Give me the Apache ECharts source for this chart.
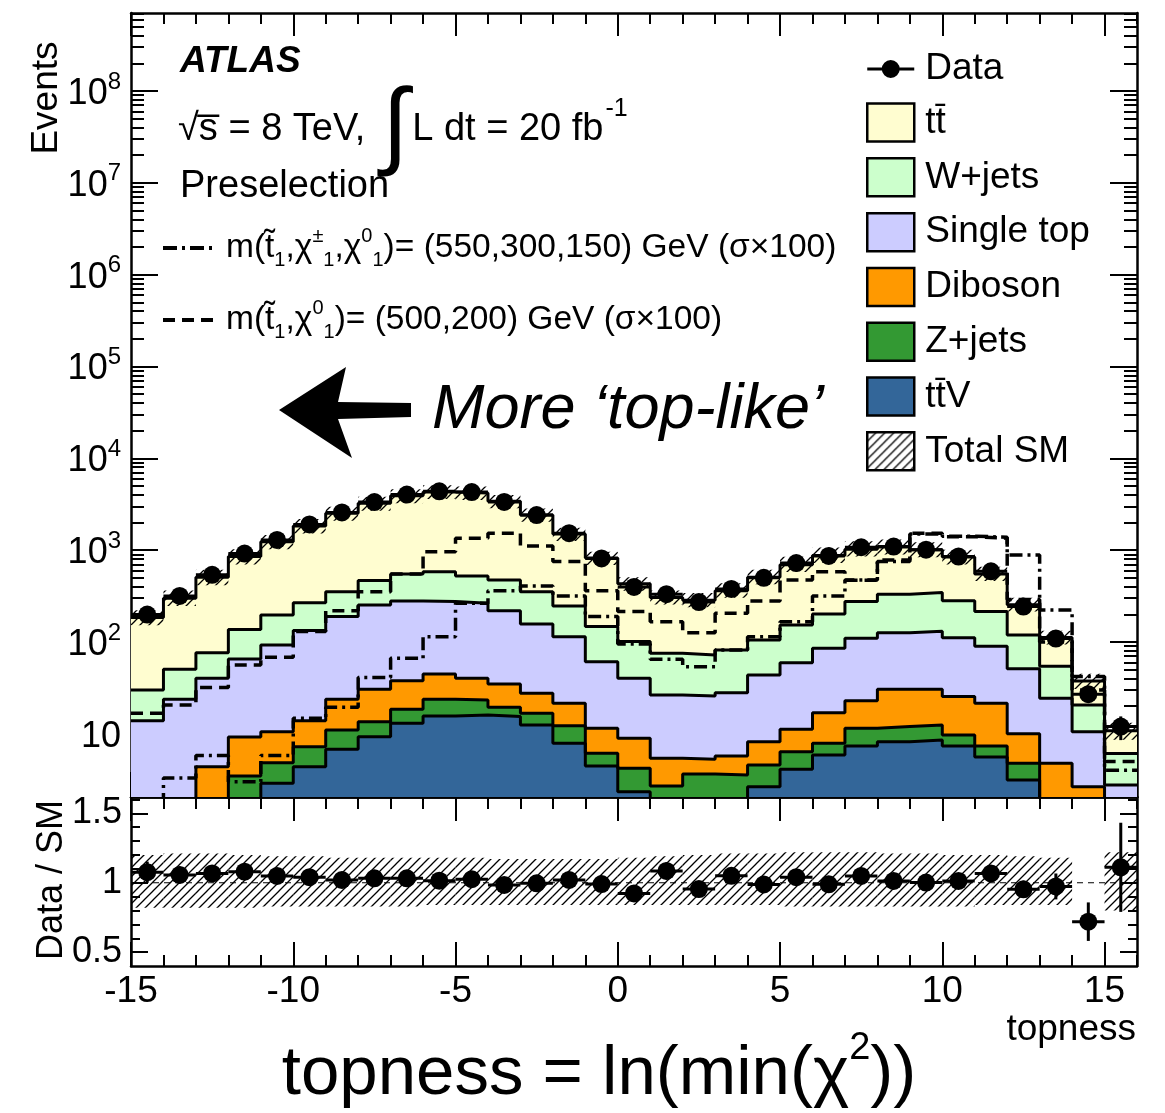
<!DOCTYPE html>
<html>
<head>
<meta charset="utf-8">
<title>topness</title>
<script src="https://cdn.jsdelivr.net/npm/echarts@6.0.0/dist/echarts.min.js"></script>
<style>
html,body{margin:0;padding:0;background:#fff;}
#chart{width:1165px;height:1113px;}
</style>
</head>
<body>
<div id="chart"></div>
<script>
// ---------------- data ----------------
const binEdges = [-15,-14,-13,-12,-11,-10,-9,-8,-7,-6,-5,-4,-3,-2,-1,0,1,2,3,4,5,6,7,8,9,10,11,12,13,14,15,16];
const ttbar     = [155,249.5,428.5,713,1033,1562,2167,2764,3350,3717,3656,2926,2067,1253,673,329,229.7,213,278.2,400,542,673,750,750,665,559,336,136,57.5,16.9,4.7];
const wJets     = [16.1,26.7,36.3,71.7,104.3,135,164,213,270,308,260,255,196,133,86,60.8,48.8,46.2,53.8,61.3,93.5,116.6,165,204,214,170,124,68,30.1,10.1,3.33];
const singleTop = [12.9,22.3,35.8,56.1,82.2,119.1,165.2,222.5,242.1,230.2,223.8,184.1,129.4,92.5,49.5,31.3,21.1,20.5,22.3,35.5,48.3,68.4,87.1,95.5,100.5,85.6,68.5,41,19.6,7.85,2.17];
const diboson   = [0.5,0.8,3.38,5.73,5.65,6.66,12.8,17,19.4,21,16.9,15.5,10.9,9.3,5.37,4.72,2.71,1.63,2.17,3.63,4.82,9.12,11.4,18.5,18,15.7,14.1,5.23,3.97,2.15,0.3];
const zJets     = [0.3,0.4,0.6,2.87,1.96,2.86,4.22,4.2,5.5,8.2,7.3,4.0,4.2,4.3,1.67,1.87,1.7,2.45,2.36,1.92,2.28,2.0,4.14,3.8,3.94,2.34,1.76,1.63,0.5,0.3,0.2];
const ttV       = [0.2,0.3,0.4,0.6,2.89,4.38,6.78,9.3,13,15.6,16,15.4,12.5,7.9,4.46,2.34,1.0,1.2,1.2,2.65,4.1,5.88,7.36,8.2,8.56,7.36,5.6,3.14,0.3,0.2,0.1];
const dataCounts= [199,317,539,918,1290,1903,2570,3333,4025,4365,4285,3346,2410,1530,812,397,331,272,378,499,723,865,1075,1094,1011,851,587,243,109,27,12];
const sig550    = [1,3.3,5.8,3.0,5.8,14.8,19.4,41,66.4,114,264,362,407,317,189,95,64.8,53.8,81.8,114,166,317,473,750,1500,1420,1380,887,223,42,4];
const sig500    = [16.7,20.6,32,56,68,130,219,353,550,963,1350,1530,1110,750,362,214,166,126,206,280,473,583,470,780,1530,1400,1350,290,100,30,5];
const sysUp     = [0.2,0.21,0.21,0.2,0.19,0.19,0.18,0.18,0.18,0.18,0.18,0.17,0.17,0.17,0.17,0.18,0.19,0.2,0.21,0.21,0.22,0.22,0.22,0.21,0.21,0.2,0.2,0.19,0.18,0.2,0.22];
const sysDown   = [0.18,0.18,0.18,0.18,0.17,0.17,0.17,0.17,0.17,0.16,0.16,0.16,0.16,0.16,0.16,0.16,0.16,0.16,0.16,0.16,0.17,0.17,0.17,0.17,0.17,0.17,0.16,0.16,0.16,0.18,0.2];
const ratioBandSkip = [14];
const xMajorTicks = [-15,-10,-5,0,5,10,15];
const yMajorExponents = [1,2,3,4,5,6,7,8];
const ratioMajorTicks = [0.5,1,1.5];
const ratioMinorTicks = [0.5,0.6,0.7,0.8,0.9,1.0,1.1,1.2,1.3,1.4,1.5,1.6];
const yMin = 2.05, yMax = 7.06e8;
const rMin = 0.401, rMax = 1.617;

// ---------------- helpers ----------------
const FONT = '"Liberation Sans", Arial, Helvetica, sans-serif';
const nb = ttbar.length;

// stacked backgrounds, bottom to top
const comps = [
  { name: 'tt\u0304V', values: ttV, color: '#336699' },
  { name: 'Z+jets', values: zJets, color: '#339933' },
  { name: 'Diboson', values: diboson, color: '#FF9900' },
  { name: 'Single top', values: singleTop, color: '#CCCCFF' },
  { name: 'W+jets', values: wJets, color: '#CCFFCC' },
  { name: 'tt\u0304', values: ttbar, color: '#FFFDD0' }
];
// cumulative tops of the stack
const cumulative = [];
comps.forEach((c, k) => {
  cumulative.push(c.values.map((v, i) => v + (k > 0 ? cumulative[k - 1][i] : 0)));
});
const total = cumulative[comps.length - 1];
const stepPts = arr => arr.map((v, i) => [binEdges[i], v]).concat([[binEdges[nb], arr[nb - 1]]]);

function makeHatch(){
  const c = document.createElement('canvas'); c.width = 9; c.height = 9;
  const g = c.getContext('2d'); g.strokeStyle = '#000'; g.lineWidth = 1.3;
  g.beginPath();
  g.moveTo(-1, 10); g.lineTo(10, -1);
  g.moveTo(-1, 1); g.lineTo(1, -1);
  g.moveTo(8, 10); g.lineTo(10, 8);
  g.stroke();
  return c;
}
const hatch = { image: makeHatch(), repeat: 'repeat' };

const yMinorExp = [];
for (let k = 0; k <= 8; k++) for (let m = 2; m <= 9; m++) {
  const v = Math.log10(m * Math.pow(10, k));
  if (v > Math.log10(yMin) && v < Math.log10(yMax)) yMinorExp.push(v);
}

// ---------------- axes ----------------
const AXC = '#000';
function xa(grid, pos, vals, len, line, labels){
  return {
    type: 'value', gridIndex: grid, position: pos, min: binEdges[0], max: binEdges[nb],
    axisLine: { show: line, onZero: false, lineStyle: { color: AXC, width: 2.5 } },
    axisTick: { show: true, inside: true, length: len, customValues: vals, lineStyle: { color: AXC, width: 2 } },
    axisLabel: labels ? { show: true, customValues: xMajorTicks, margin: 7, fontSize: 37, color: '#000', fontFamily: FONT,
                          formatter: v => String(v) } : { show: false },
    splitLine: { show: false }, minorTick: { show: false }
  };
}
const expLabel = {
  show: true, customValues: yMajorExponents, margin: 10, color: '#000', fontFamily: FONT, fontSize: 36,
  formatter: v => { const e = Math.round(v); return e === 1 ? '{b|10}' : '{b|10}{p|' + e + '}'; },
  rich: {
    b: { fontSize: 36, fontFamily: FONT, lineHeight: 42, color: '#000', padding: [6, 0, 0, 0] },
    p: { fontSize: 24, fontFamily: FONT, lineHeight: 20, verticalAlign: 'top', color: '#000' }
  }
};
function yLogDeco(pos, vals, len, labels){
  return {
    type: 'value', gridIndex: 0, position: pos, min: Math.log10(yMin), max: Math.log10(yMax),
    axisLine: { show: false, onZero: false },
    axisTick: { show: true, inside: true, length: len, customValues: vals, lineStyle: { color: AXC, width: 2 } },
    axisLabel: labels ? expLabel : { show: false },
    splitLine: { show: false }, minorTick: { show: false }
  };
}
function yLogData(pos){
  return {
    type: 'log', logBase: 10, gridIndex: 0, position: pos, min: yMin, max: yMax,
    axisLine: { show: true, onZero: false, lineStyle: { color: AXC, width: 2.5 } },
    axisTick: { show: false }, axisLabel: { show: false }, splitLine: { show: false }, minorTick: { show: false }
  };
}
function yRatio(pos, vals, len, line, labels){
  return {
    type: 'value', gridIndex: 1, position: pos, min: rMin, max: rMax,
    axisLine: { show: line, onZero: false, lineStyle: { color: AXC, width: 2.5 } },
    axisTick: { show: true, inside: true, length: len, customValues: vals, lineStyle: { color: AXC, width: 2 } },
    axisLabel: labels ? { show: true, customValues: ratioMajorTicks, margin: 9, fontSize: 36, color: '#000', fontFamily: FONT,
                          formatter: v => String(v) } : { show: false },
    splitLine: { show: false }, minorTick: { show: false }
  };
}

// ---------------- series ----------------
const series = [];
// filled areas: largest cumulative first so smaller ones lie on top
for (let k = comps.length - 1; k >= 0; k--) {
  const c = comps[k];
  series.push({
    type: 'line', name: c.name, data: stepPts(cumulative[k]), step: 'end', symbol: 'none',
    xAxisIndex: 0, yAxisIndex: 0, color: c.color, lineStyle: { width: 0, opacity: 0 },
    areaStyle: { color: c.color, opacity: 1, origin: 'start' }, z: 2, silent: true, animation: false
  });
}
// black outlines of every stack boundary
for (let k = 0; k < comps.length; k++) {
  series.push({
    type: 'line', name: 'outline' + k, data: stepPts(cumulative[k]), step: 'end', symbol: 'none',
    xAxisIndex: 0, yAxisIndex: 0, lineStyle: { color: '#000', width: 3 }, z: 3, silent: true, animation: false
  });
}

// total SM uncertainty band (main)
series.push({
  type: 'custom', name: 'Total SM', xAxisIndex: 0, yAxisIndex: 0, z: 4, silent: true, animation: false,
  encode: { x: [0, 1], y: [2, 3] },
  data: total.map((t, i) => [binEdges[i], binEdges[i + 1], t * (1 - sysDown[i]), t * (1 + sysUp[i])]),
  renderItem: (params, api) => {
    const a = api.coord([api.value(0), api.value(3)]);
    const b = api.coord([api.value(1), api.value(2)]);
    return { type: 'rect', shape: { x: a[0], y: a[1], width: b[0] - a[0], height: b[1] - a[1] }, style: { fill: hatch, stroke: null } };
  }
});

// signals
series.push({
  type: 'line', name: 'sig550', data: stepPts(sig550), step: 'end', symbol: 'none', xAxisIndex: 0, yAxisIndex: 0,
  lineStyle: { color: '#000', width: 3.5, type: [13, 5, 3, 5] }, z: 5, silent: true, animation: false
});
series.push({
  type: 'line', name: 'sig500', data: stepPts(sig500), step: 'end', symbol: 'none', xAxisIndex: 0, yAxisIndex: 0,
  lineStyle: { color: '#000', width: 3.5, type: [12, 7] }, z: 5, silent: true, animation: false
});

function pointItem(params, api){
  const xc = api.value(0), y = api.value(1), x0 = api.value(2), x1 = api.value(3), e = api.value(4);
  const pc = api.coord([xc, y]);
  const pl = api.coord([x0, y]);
  const pr = api.coord([x1, y]);
  const pt = api.coord([xc, y + e]);
  const pb = api.coord([xc, Math.max(y - e, 1e-3)]);
  return { type: 'group', children: [
    { type: 'line', shape: { x1: pl[0], y1: pl[1], x2: pr[0], y2: pr[1] }, style: { stroke: '#000', lineWidth: 3 } },
    { type: 'line', shape: { x1: pc[0], y1: pt[1], x2: pc[0], y2: pb[1] }, style: { stroke: '#000', lineWidth: 3 } },
    { type: 'circle', shape: { cx: pc[0], cy: pc[1], r: 9 }, style: { fill: '#000' } }
  ] };
}

// data points (main)
series.push({
  type: 'custom', name: 'Data', xAxisIndex: 0, yAxisIndex: 0, z: 6, silent: true, animation: false,
  encode: { x: 0, y: 1 },
  data: dataCounts.map((n, i) => [(binEdges[i] + binEdges[i + 1]) / 2, n, binEdges[i], binEdges[i + 1], Math.sqrt(n)]),
  renderItem: pointItem
});

// ratio band
series.push({
  type: 'custom', name: 'ratioBand', xAxisIndex: 4, yAxisIndex: 6, z: 4, silent: true, animation: false,
  encode: { x: [0, 1], y: [2, 3] },
  data: total.map((t, i) => [binEdges[i], binEdges[i + 1], 1 - sysDown[i], 1 + sysUp[i]])
             .filter(d => ratioBandSkip.indexOf(d[0]) < 0),
  renderItem: (params, api) => {
    const a = api.coord([api.value(0), api.value(3)]);
    const b = api.coord([api.value(1), api.value(2)]);
    return { type: 'rect', shape: { x: a[0], y: a[1], width: b[0] - a[0], height: b[1] - a[1] }, style: { fill: hatch, stroke: null } };
  }
});
// unity line
series.push({
  type: 'line', name: 'unity', xAxisIndex: 4, yAxisIndex: 6, data: [[binEdges[0], 1], [binEdges[nb], 1]],
  symbol: 'none', lineStyle: { color: '#000', width: 1.2, type: [6, 5] }, z: 5, silent: true, animation: false
});
// ratio points
series.push({
  type: 'custom', name: 'ratio', xAxisIndex: 4, yAxisIndex: 6, z: 6, silent: true, animation: false,
  encode: { x: 0, y: 1 },
  data: dataCounts.map((n, i) => [(binEdges[i] + binEdges[i + 1]) / 2, n / total[i], binEdges[i], binEdges[i + 1], Math.sqrt(n) / total[i]]),
  renderItem: pointItem
});

// ---------------- legends ----------------
const dataIcon = 'path://M0,17.5L15.5,17.5L15.5,20.5L0,20.5Z M31.5,17.5L47,17.5L47,20.5L31.5,20.5Z M32.5,19A9,9 0 1 1 14.5,19A9,9 0 1 1 32.5,19Z M0,0L0.01,0L0,0.01Z M47,38L46.99,38L47,37.99Z';
const dashDotIcon = 'path://M0,0L14,0L14,4L0,4Z M19,0L22,0L22,4L19,4Z M27,0L41,0L41,4L27,4Z M46,0L49,0L49,4L46,4Z M51.99,0L52,0L52,0.01Z';
const dashIcon = 'path://M0,0L12,0L12,4L0,4Z M19,0L31,0L31,4L19,4Z M38,0L50,0L50,4L38,4Z M51.99,0L52,0L52,0.01Z';
const boxStyle = c => ({ color: c, borderColor: '#000', borderWidth: 2.5 });
const sigLabels = {
  sig550: 'm(t\u0303{s|1},\u03c7{p|\u00b1}{s|1},\u03c7{p|0}{s|1})= (550,300,150) GeV (\u03c3\u00d7100)',
  sig500: 'm(t\u0303{s|1},\u03c7{p|0}{s|1})= (500,200) GeV (\u03c3\u00d7100)'
};
const SIGF = 33.5;

const option = {
  animation: false,
  backgroundColor: '#fff',
  grid: [
    { left: 131, top: 13, width: 1006, height: 784, outerBoundsMode: 'none', containLabel: false },
    { left: 131, top: 797, width: 1006, height: 169, outerBoundsMode: 'none', containLabel: false }
  ],
  xAxis: [
    xa(0, 'bottom', xMajorTicks, 25, true, false),
    xa(0, 'bottom', binEdges, 11, false, false),
    xa(0, 'top', xMajorTicks, 23, true, false),
    xa(0, 'top', binEdges, 11, false, false),
    xa(1, 'bottom', xMajorTicks, 24, true, true),
    xa(1, 'bottom', binEdges, 11, false, false),
    xa(1, 'top', xMajorTicks, 24, true, false),
    xa(1, 'top', binEdges, 12, false, false)
  ],
  yAxis: [
    yLogData('left'),
    yLogDeco('left', yMajorExponents, 27, true),
    yLogDeco('left', yMinorExp, 13, false),
    yLogData('right'),
    yLogDeco('right', yMajorExponents, 27, false),
    yLogDeco('right', yMinorExp, 13, false),
    yRatio('left', ratioMajorTicks, 17, true, true),
    yRatio('left', ratioMinorTicks, 9, false, false),
    yRatio('right', ratioMajorTicks, 17, true, false),
    yRatio('right', ratioMinorTicks, 9, false, false)
  ],
  legend: [
    {
      orient: 'vertical', left: 866, top: 50, itemWidth: 47, itemHeight: 38, itemGap: 14.3, padding: 0,
      selectedMode: false,
      textStyle: { fontFamily: FONT, fontSize: 37, color: '#000', padding: [0, 0, 0, 6] },
      data: [
        { name: 'Data', icon: dataIcon, itemStyle: { color: '#000', borderWidth: 0 } },
        { name: 'tt\u0304', icon: 'rect', itemStyle: boxStyle('#FFFDD0') },
        { name: 'W+jets', icon: 'rect', itemStyle: boxStyle('#CCFFCC') },
        { name: 'Single top', icon: 'rect', itemStyle: boxStyle('#CCCCFF') },
        { name: 'Diboson', icon: 'rect', itemStyle: boxStyle('#FF9900') },
        { name: 'Z+jets', icon: 'rect', itemStyle: boxStyle('#339933') },
        { name: 'tt\u0304V', icon: 'rect', itemStyle: boxStyle('#336699') },
        { name: 'Total SM', icon: 'rect', itemStyle: boxStyle(hatch) }
      ]
    },
    {
      orient: 'vertical', left: 163, top: 226, itemWidth: 52, itemHeight: 4, itemGap: 28, padding: 0,
      selectedMode: false,
      formatter: name => sigLabels[name],
      textStyle: {
        fontFamily: FONT, fontSize: SIGF, color: '#000', lineHeight: 44, padding: [0, 0, 0, 6],
        rich: {
          s: { fontFamily: FONT, fontSize: 20, lineHeight: 22, verticalAlign: 'bottom', color: '#000' },
          p: { fontFamily: FONT, fontSize: 20, lineHeight: 22, verticalAlign: 'top', color: '#000' }
        }
      },
      data: [
        { name: 'sig550', icon: dashDotIcon, itemStyle: { color: '#000', borderWidth: 0 } },
        { name: 'sig500', icon: dashIcon, itemStyle: { color: '#000', borderWidth: 0 } }
      ]
    }
  ],
  graphic: [
    { type: 'text', x: 180, y: 62, silent: true,
      style: { text: 'ATLAS', fontFamily: FONT, fontSize: 37, fontWeight: 'bold', fontStyle: 'italic', fill: '#000', verticalAlign: 'middle' } },
    { type: 'text', x: 178, y: 130, silent: true,
      style: { text: '{n|\u221As\u0305 = 8 TeV, }{i|\u222B}{n|L dt = 20 fb}{p|-1}', verticalAlign: 'middle', fill: '#000',
        rich: {
          n: { fontFamily: FONT, fontSize: 38, lineHeight: 96, verticalAlign: 'middle', fill: '#000' },
          i: { fontFamily: FONT, fontSize: 96, lineHeight: 96, verticalAlign: 'middle', fill: '#000', padding: [0, 4, 0, 6] },
          p: { fontFamily: FONT, fontSize: 25, height: 54, verticalAlign: 'top', fill: '#000', padding: [0, 0, 0, 2] }
        } } },
    { type: 'text', x: 180, y: 187, silent: true,
      style: { text: 'Preselection', fontFamily: FONT, fontSize: 38, fill: '#000', verticalAlign: 'middle' } },
    { type: 'polygon', silent: true,
      shape: { points: [[279, 410], [346, 367], [338, 402], [411, 403], [411, 417], [338, 419], [352, 458]] },
      style: { fill: '#000' } },
    { type: 'text', x: 432, y: 410, silent: true,
      style: { text: 'More \u2018top-like\u2019', fontFamily: FONT, fontSize: 63, fontStyle: 'italic', fill: '#000', verticalAlign: 'middle' } },
    { type: 'text', x: 47, y: 98, rotation: Math.PI / 2, silent: true,
      style: { text: 'Events', fontFamily: FONT, fontSize: 37, fill: '#000', align: 'center', verticalAlign: 'middle' } },
    { type: 'text', x: 52, y: 880, rotation: Math.PI / 2, silent: true,
      style: { text: 'Data / SM', fontFamily: FONT, fontSize: 36, fill: '#000', align: 'center', verticalAlign: 'middle' } },
    { type: 'text', x: 1136, y: 1030, silent: true,
      style: { text: 'topness', fontFamily: FONT, fontSize: 37, fill: '#000', align: 'right', verticalAlign: 'middle' } },
    { type: 'text', x: 599, y: 1075, silent: true,
      style: { text: '{a|topness = ln(min(\u03c7}{s|2}{a|))}', align: 'center', verticalAlign: 'middle', fill: '#000',
        rich: {
          a: { fontFamily: FONT, fontSize: 69, lineHeight: 90, verticalAlign: 'middle', fill: '#000' },
          s: { fontFamily: FONT, fontSize: 38, lineHeight: 56, verticalAlign: 'top', fill: '#000' }
        } } }
  ],
  series: series
};

const chart = echarts.init(document.getElementById('chart'), null, { renderer: 'canvas' });
chart.setOption(option);
</script>
</body>
</html>
